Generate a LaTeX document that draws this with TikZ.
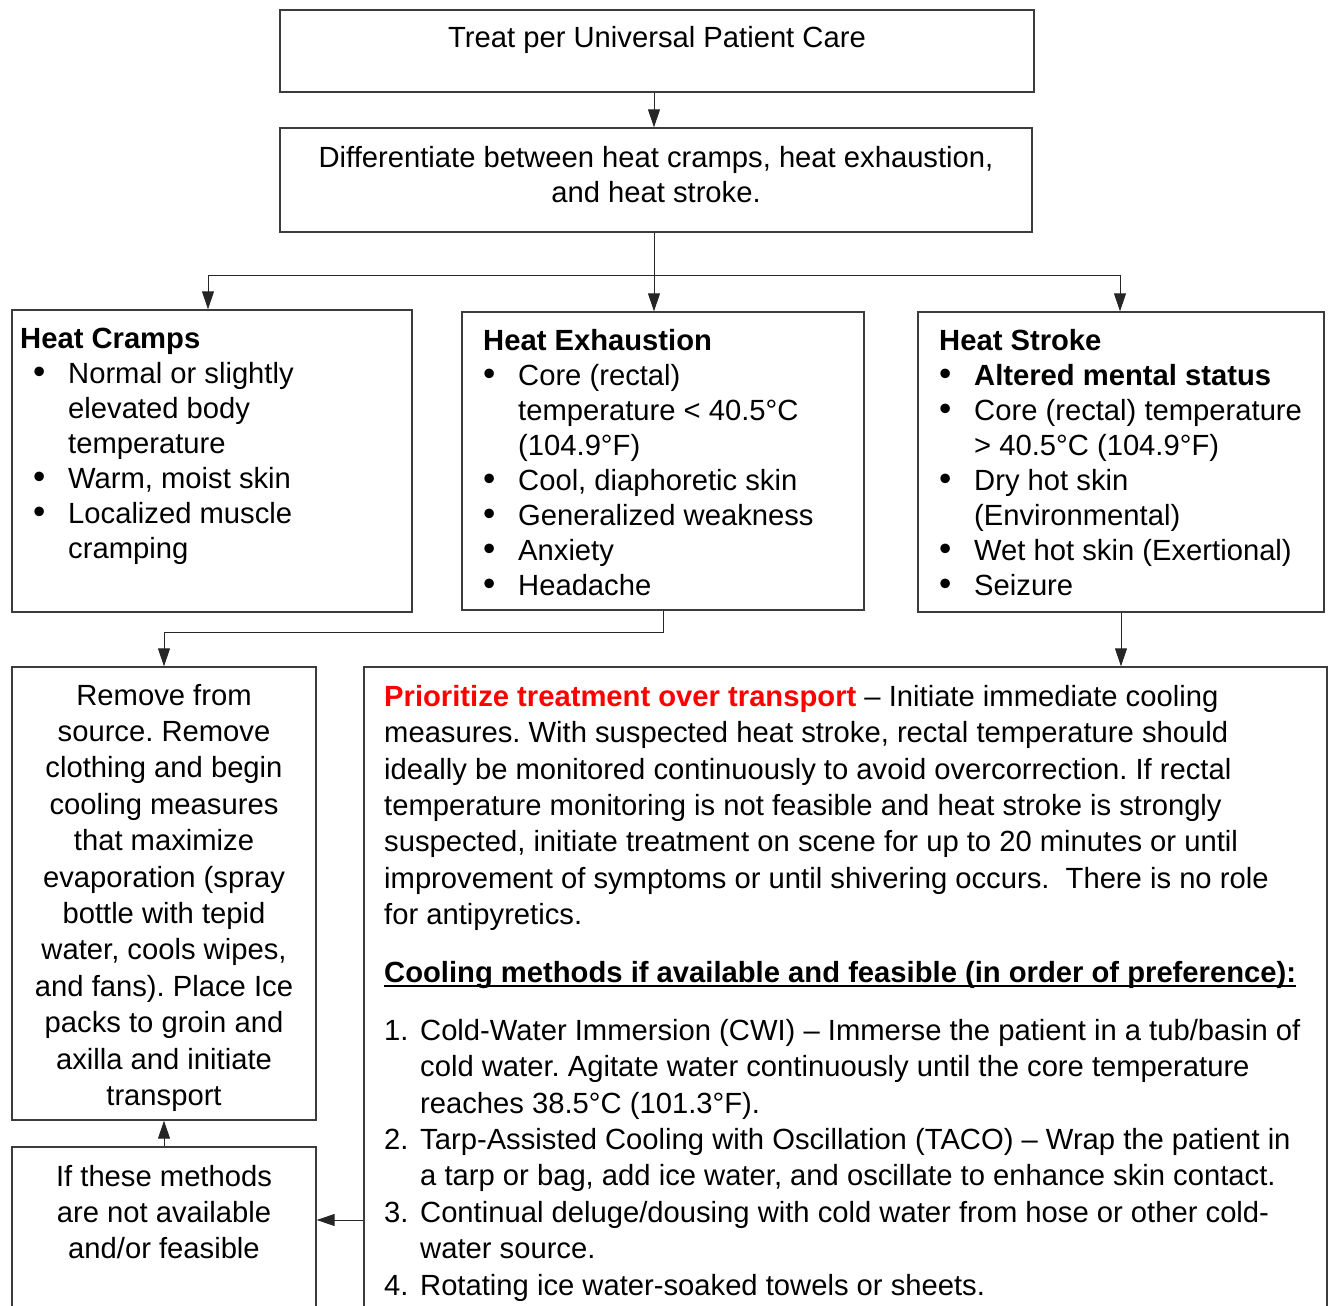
\documentclass[tikz,border=0pt]{standalone}
\usepackage{fontspec}
\setmainfont{Liberation Sans}
\usetikzlibrary{arrows.meta}
\definecolor{boxline}{HTML}{3C3C3C}
\definecolor{alert}{HTML}{FF0000}
\frenchspacing
% bullet and hanging indent for the symptom lists
\newcommand\bul{\makebox[35pt][l]{\scalebox{1.2}{\textbullet}}}
\newcommand\ind{\hspace*{35pt}}
% numbered list item and its continuation indent
\newcommand\num[1]{\makebox[36pt][l]{#1}}
\newcommand\nind{\hspace*{36pt}}
% heavy underline for the section heading
\newcommand\thickul[1]{\setbox0\hbox{#1}\rlap{\rule[-5pt]{\wd0}{2.4pt}}\box0}
\begin{document}
\begin{tikzpicture}[x=1pt,y=-1pt,
  box/.style={draw=boxline, line width=1.4pt, rectangle, inner sep=0pt},
  conn/.style={draw=black!85, line width=1pt},
  arr/.style={conn, -{Triangle[length=18pt,width=12pt]}},
  tA/.style={inner sep=0pt, font=\fontsize{29.2}{35}\selectfont},
  tB/.style={inner sep=0pt, font=\fontsize{29.2}{36.4}\selectfont}]
\useasboundingbox (0,0) rectangle (1328,1306);
\clip (0,0) rectangle (1328,1306);

% boxes
\node[box, minimum width=754pt, minimum height=82pt]  (treat)   at (657,51) {};
\node[box, minimum width=752pt, minimum height=104pt] (diff)    at (656,180) {};
\node[box, minimum width=400pt, minimum height=302pt] (cramps)  at (212,461) {};
\node[box, minimum width=402pt, minimum height=298pt] (exh)     at (663,461) {};
\node[box, minimum width=406pt, minimum height=300pt] (stroke)  at (1121,462) {};
\node[box, minimum width=304pt, minimum height=453pt] (remove)  at (164,893.5) {};
\node[box, minimum width=304pt, minimum height=193pt] (ifnot)   at (164,1243.5) {};
\node[box, minimum width=963pt, minimum height=673pt] (prio)    at (845.5,1003.5) {};

% texts
\node[tA, anchor=base] (treatT) at (657,48) {Treat per Universal Patient Care};
\node[tA, anchor=north, align=center] (diffT) at (656,142.5)
  {\strut Differentiate between heat cramps, heat exhaustion,\\and heat stroke.};

\node[tA, anchor=north west, align=left] (crampsT) at (20,323.5)
  {\strut\textbf{Heat Cramps}\\
   \hspace*{13pt}\bul Normal or slightly\\
   \hspace*{13pt}\ind elevated body\\
   \hspace*{13pt}\ind temperature\\
   \hspace*{13pt}\bul Warm, moist skin\\
   \hspace*{13pt}\bul Localized muscle\\
   \hspace*{13pt}\ind cramping};

\node[tA, anchor=north west, align=left] (exhT) at (483,325.5)
  {\strut\textbf{Heat Exhaustion}\\
   \bul Core (rectal)\\
   \ind temperature < 40.5°C\\
   \ind (104.9°F)\\
   \bul Cool, diaphoretic skin\\
   \bul Generalized weakness\\
   \bul Anxiety\\
   \bul Headache};

\node[tA, anchor=north west, align=left] (strokeT) at (939,325.5)
  {\strut\textbf{Heat Stroke}\\
   \bul\textbf{Altered mental status}\\
   \bul Core (rectal) temperature\\
   \ind > 40.5°C (104.9°F)\\
   \bul Dry hot skin\\
   \ind (Environmental)\\
   \bul Wet hot skin (Exertional)\\
   \bul Seizure};

\node[tB, anchor=north, align=center] (removeT) at (164,679.5)
  {\strut Remove from\\source. Remove\\clothing and begin\\cooling measures\\that maximize\\evaporation (spray\\bottle with tepid\\water, cools wipes,\\and fans). Place Ice\\packs to groin and\\axilla and initiate\\transport};

\node[tB, anchor=north, align=center] (ifnotT) at (164,1160.5)
  {\strut If these methods\\are not available\\and/or feasible};

\node[tB, anchor=north west, align=left] (prioT) at (384,680.6)
  {\strut{\color{alert}\bfseries Prioritize treatment over transport} – Initiate immediate cooling\\
   measures. With suspected heat stroke, rectal temperature should\\
   ideally be monitored continuously to avoid overcorrection. If rectal\\
   temperature monitoring is not feasible and heat stroke is strongly\\
   suspected, initiate treatment on scene for up to 20 minutes or until\\
   improvement of symptoms or until shivering occurs.\ \ There is no role\\
   for antipyretics.};

\node[tB, anchor=base west] (headT) at (384,982)
  {\thickul{\bfseries Cooling methods if available and feasible (in order of preference):}};

\node[tB, anchor=north west, align=left] (listT) at (384,1014.6)
  {\strut\num{1.}Cold-Water Immersion (CWI) – Immerse the patient in a tub/basin of\\
   \nind cold water. Agitate water continuously until the core temperature\\
   \nind reaches 38.5°C (101.3°F).\\
   \num{2.}Tarp-Assisted Cooling with Oscillation (TACO) – Wrap the patient in\\
   \nind a tarp or bag, add ice water, and oscillate to enhance skin contact.\\
   \num{3.}Continual deluge/dousing with cold water from hose or other cold-\\
   \nind water source.\\
   \num{4.}Rotating ice water-soaked towels or sheets.};

% connectors
\coordinate (bl) at (208,275);
\coordinate (br) at (1120,275);
\coordinate (trunk) at (654,0);
\coordinate (side) at (340,1220);
\draw[arr] (trunk |- treat.south) -- (trunk |- diff.north);
\draw[arr] (trunk |- diff.south) -- (trunk |- exh.north);
\draw[conn] (bl) -- (br);
\draw[arr] (bl) -- (bl |- cramps.north);
\draw[arr] (br) -- (br |- stroke.north);
\draw[arr] (exh.south) -- ++(0,22) -| (remove.north);
\draw[arr] (stroke.south) -- (stroke.south |- prio.north);
\draw[arr] (ifnot.north) -- (remove.south);
\draw[arr] (prio.west |- side) -- (ifnot.east |- side);
\end{tikzpicture}
\end{document}
